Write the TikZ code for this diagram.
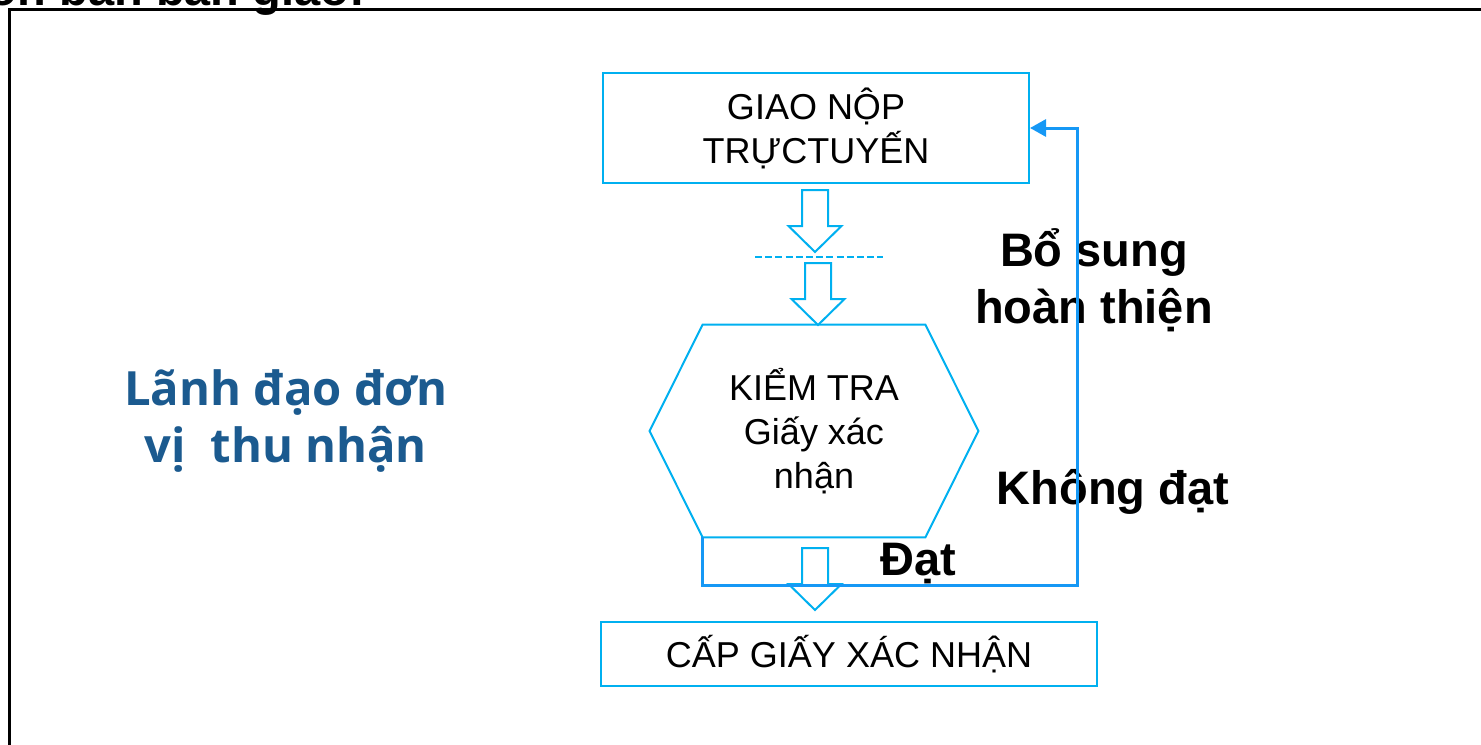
\documentclass[tikz,border=0pt]{standalone}
\usepackage{fontspec}
\setmainfont{Liberation Sans}
\newfontfamily\leadfont{Open Sans}
\usetikzlibrary{arrows.meta, calc}

\definecolor{boxcyan}{HTML}{00B0F0}
\definecolor{loopblue}{RGB}{22,152,245}
\definecolor{leadblue}{HTML}{1B5A8F}

\begin{document}
\begin{tikzpicture}
  [
  x = 0.5pt, y = -0.5pt,
  % khung
  block/.style = {rectangle, draw = boxcyan, line width = 1pt,
    align = center, inner sep = 0pt,
    font = \fontsize{18}{22}\selectfont},
  % mui ten rong
  hollow/.style = {draw = boxcyan, line width = 1pt, fill = white},
  % duong quay lai
  back/.style = {draw = loopblue, line width = 1.5pt,
    -{Triangle[length = 8pt, width = 8.5pt]}},
  note/.style = {font = \bfseries\fontsize{23.5}{28.5}\selectfont,
    align = center},
  ]

  \useasboundingbox (0,0) rectangle (1481,744);

  % tieu de bi cat
  \node [note, anchor = base east] (title) at (372,5) {Nguồn bản bàn giao:};
  \draw [line width = 1.5pt] (9,760) |- (1500,9);

  % nodes
  \node [block, minimum width = 213pt, minimum height = 55pt] (giao)
    at (816,128) {GIAO NỘP\\TRỰCTUYẾN};
  \node [align = center, inner sep = 0pt, minimum width = 164pt,
    minimum height = 106pt, font = \fontsize{18}{22}\selectfont] (kiem)
    at (814,431) {KIỂM TRA\\Giấy xác\\nhận};
  \node [block, minimum width = 248pt, minimum height = 32pt] (cap)
    at (849,654) {CẤP GIẤY XÁC NHẬN};

  \node [note] (bosung) at (1094,280) {Bổ sung\\hoàn thiện};
  \node [note, anchor = base] (khong) at (1113,504) {Không đạt};
  \node [note, anchor = base] (dat) at (918,575) {Đạt};
  \node [align = center, text = leadblue,
    font = \leadfont\bfseries\fontsize{23.6}{28.5}\selectfont] (lanhdao)
    at (286,421) {Lãnh đạo đơn\\vị~ thu nhận};

  % luc giac
  \coordinate (hexbl) at ($(kiem.south west)+(53,0)$);
  \draw [hollow, fill = none] (kiem.west) -- ($(kiem.north west)+(53,0)$)
    -- ($(kiem.north east)+(-53,0)$) -- (kiem.east)
    -- ($(kiem.south east)+(-53,0)$) -- (hexbl) -- cycle;

  % path
  \coordinate (dashl) at (755,257);
  \coordinate (dashr) at (883,257);
  \draw [draw = boxcyan, line width = 1pt,
    dash pattern = on 3.5pt off 1.6pt] (dashl) -- (dashr);

  \foreach \ax/\ay in {815/190, 818/263, 815/548}
    \draw [hollow] (\ax-13,\ay) -- (\ax+13,\ay) -- (\ax+13,\ay+36)
      -- (\ax+26.5,\ay+36) -- (\ax,\ay+62) -- (\ax-26.5,\ay+36)
      -- (\ax-13,\ay+36) -- cycle;

  \coordinate (turn) at (1077,585);
  \path [back] (hexbl) |- (turn) |- (giao.east);

\end{tikzpicture}
\end{document}
